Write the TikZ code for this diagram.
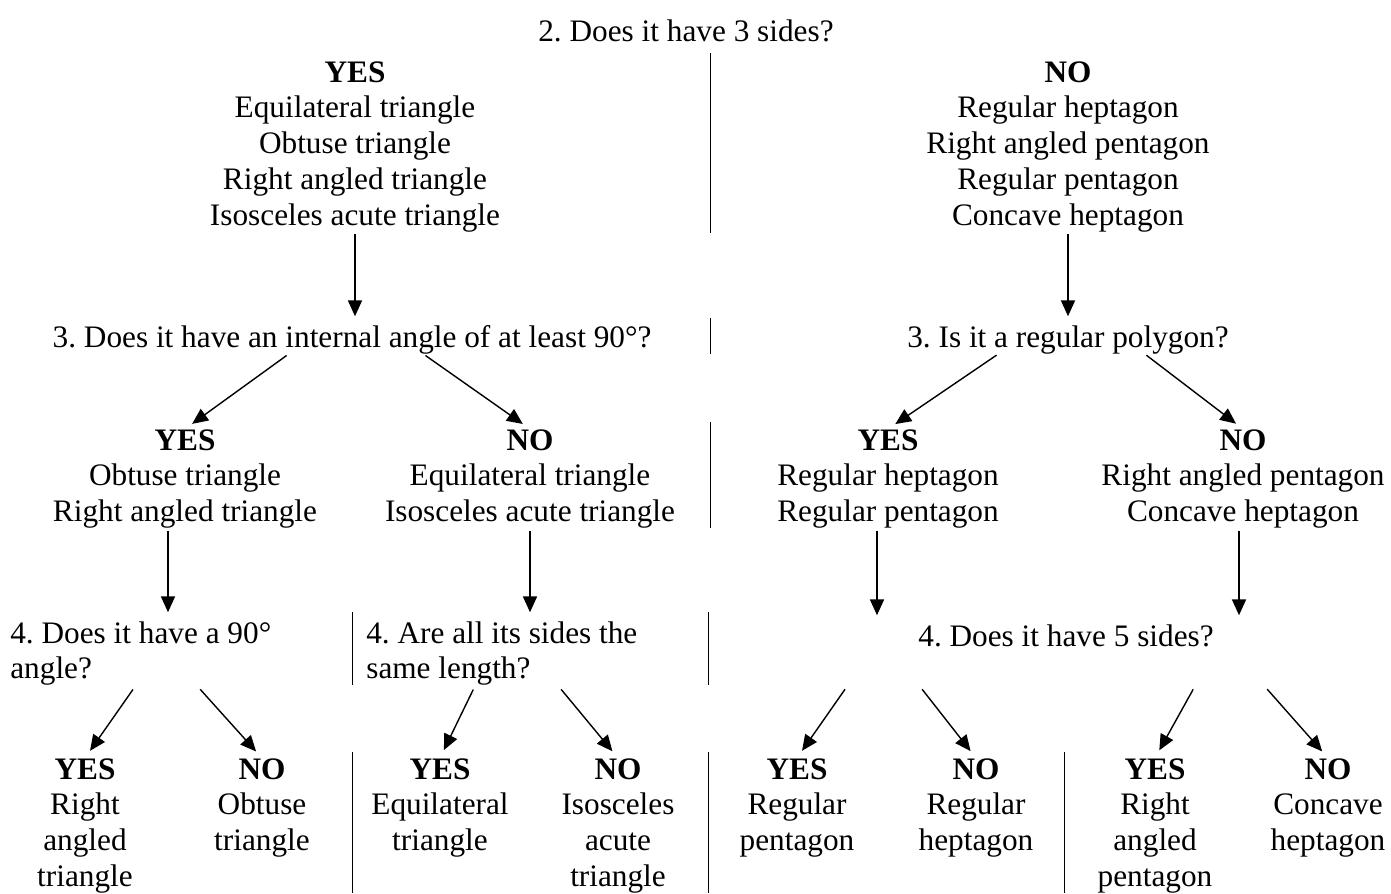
\documentclass[tikz,border=0pt]{standalone}
\usepackage{fontspec}
\setmainfont{Liberation Serif}
\frenchspacing
\usetikzlibrary{arrows.meta}
\usetikzlibrary{calc}
\tikzset{
txt/.style={inner sep=0pt, align=center, anchor=north, font=\fontsize{17.8}{20.4}\selectfont},
arr/.style={-{Triangle[length=9pt,width=8pt]}, line width=0.8pt, shorten >=5pt, shorten <=1pt},
sep/.style={line width=0.5pt}}

\begin{document}
\begin{tikzpicture}[x=0.02cm, y=-0.02cm]
        \useasboundingbox (0,0) rectangle (1391,893);

                    \node[txt] (A) at (686,19) {2. Does it have 3 sides?};
                    \node[txt] (B) at (355,61) {\textbf{YES}\\Equilateral triangle\\Obtuse triangle\\Right angled triangle\\Isosceles acute triangle};
                    \node[txt] (C) at (1068,61) {\textbf{NO}\\Regular heptagon\\Right angled pentagon\\Regular pentagon\\Concave heptagon};
                    \node[txt] (D) at (352,325) {3. Does it have an internal angle of at least 90°?};
                    \node[txt] (E) at (1068,325) {3. Is it a regular polygon?};
                    \node[txt] (F) at (185,429) {\textbf{YES}\\Obtuse triangle\\Right angled triangle};
                    \node[txt] (G) at (530,429) {\textbf{NO}\\Equilateral triangle\\Isosceles acute triangle};
                    \node[txt] (H) at (888,429) {\textbf{YES}\\Regular heptagon\\Regular pentagon};
                    \node[txt] (I) at (1243,429) {\textbf{NO}\\Right angled pentagon\\Concave heptagon};
                    \node[txt, anchor=north west, align=left] (J) at (10,621) {4. Does it have a 90°\\angle?};
                    \node[txt, anchor=north west, align=left] (K) at (366,621) {4. Are all its sides the\\same length?};
                    \node[txt] (L) at (1066,624) {4. Does it have 5 sides?};
                    \node[txt] (M) at (85,758) {\textbf{YES}\\Right\\angled\\triangle};
                    \node[txt] (N) at (262,758) {\textbf{NO}\\Obtuse\\triangle};
                    \node[txt] (O) at (440,758) {\textbf{YES}\\Equilateral\\triangle};
                    \node[txt] (P) at (618,758) {\textbf{NO}\\Isosceles\\acute\\triangle};
                    \node[txt] (Q) at (797,758) {\textbf{YES}\\Regular\\pentagon};
                    \node[txt] (R) at (976,758) {\textbf{NO}\\Regular\\heptagon};
                    \node[txt] (S) at (1155,758) {\textbf{YES}\\Right\\angled\\pentagon};
                    \node[txt] (T) at (1328,758) {\textbf{NO}\\Concave\\heptagon};

                    \draw[arr] (B.south) -- (B.south |- D.north);
                    \draw[arr] (C.south) -- (C.south |- E.north);
                    \draw[arr] ($(D.south)+(-64,0)$) -- (F.north);
                    \draw[arr] ($(D.south)+(72,0)$) -- (G.north);
                    \draw[arr] ($(E.south)+(-70,0)$) -- (H.north);
                    \draw[arr] ($(E.south)+(77,0)$) -- (I.north);

                    \coordinate (F1) at ($(F.south)+(-17,0)$);
                    \coordinate (H1) at ($(H.south)+(-11,0)$);
                    \coordinate (I1) at ($(I.south)+(-4,0)$);
                    \draw[arr] (F1) -- (F1 |- J.north);
                    \draw[arr] (G.south) -- (G.south |- K.north);
                    \draw[arr] (H1) -- (H1 |- L.north);
                    \draw[arr] (I1) -- (I1 |- L.north);

                    \draw[arr] ($(J.south west)+(124,2)$) -- (M.north);
                    \draw[arr] ($(J.south west)+(189,2)$) -- (N.north);
                    \draw[arr] ($(K.south west)+(108,2)$) -- (O.north);
                    \draw[arr] ($(K.south west)+(194,2)$) -- (P.north);
                    \draw[arr] ($(L.south)+(-220,41)$) -- (Q.north);
                    \draw[arr] ($(L.south)+(-145,41)$) -- (R.north);
                    \draw[arr] ($(L.south)+(128,41)$) -- (S.north);
                    \draw[arr] ($(L.south)+(200,41)$) -- (T.north);

                    \draw[sep] (710,53) -- (710,233);
                    \draw[sep] (710,318) -- (710,354);
                    \draw[sep] (710,422) -- (710,528);
                    \draw[sep] (352,612) -- (352,685);
                    \draw[sep] (708,612) -- (708,685);
                    \draw[sep] (352,752) -- (352,893);
                    \draw[sep] (708,752) -- (708,893);
                    \draw[sep] (1064,752) -- (1064,893);

                \end{tikzpicture}
\end{document}
